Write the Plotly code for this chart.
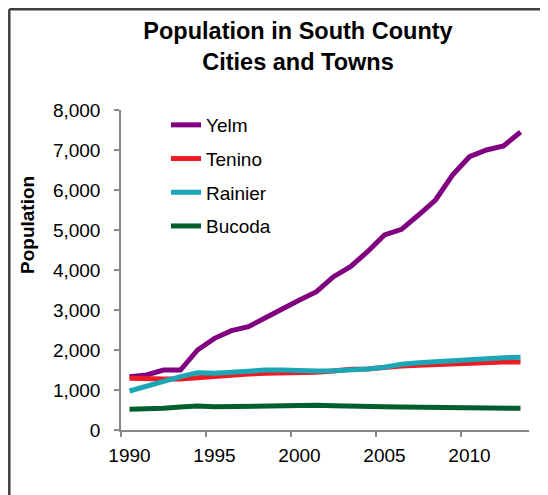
import plotly.graph_objects as go

years = list(range(1990, 2014))
yelm = [1333, 1375, 1500, 1500, 2000, 2292, 2483, 2583, 2808, 3042, 3250, 3458,
        3833, 4083, 4458, 4875, 5017, 5375, 5750, 6375, 6833, 7000, 7100, 7450]
tenino = [1292, 1275, 1275, 1275, 1308, 1358, 1375, 1400, 1417, 1417, 1417, 1442,
          1475, 1517, 1525, 1567, 1600, 1617, 1633, 1667, 1683, 1700, 1700, 1700]
rainier = [975, 1100, 1208, 1333, 1433, 1417, 1442, 1475, 1500, 1500, 1483, 1475,
           1483, 1500, 1525, 1567, 1642, 1683, 1708, 1733, 1775, 1808, 1808, 1817]
bucoda = [517, 525, 542, 575, 600, 583, 592, 608, 608, 617, 617, 617,
          608, 608, 592, 583, 575, 567, 558, 558, 542, 542, 542, 542]

series_names = ["Yelm", "Tenino", "Rainier", "Bucoda"]
series_values = [yelm, tenino, rainier, bucoda]
colors = ["#800080", "#ED1C24", "#1BA6B6", "#005F2C"]

x_tick_vals = [1990, 1995, 2000, 2005, 2010]
x_tick_text = ["1990", "1995", "2000", "2005", "2010"]
y_tick_vals = [0, 1000, 2000, 3000, 4000, 5000, 6000, 7000, 8000]

FONT = "Liberation Sans, Arial, sans-serif"

fig = go.Figure()
for name, vals, col in zip(series_names, series_values, colors):
    fig.add_trace(go.Scatter(
        x=years, y=vals, name=name, mode="lines",
        line=dict(color=col, width=5),
        legendgroup=name,
    ))

# page body has an 8px margin; work in window pixels and subtract it
OFF = 8
W, H = 548 - OFF, 495 - OFF
L, T = 121 - OFF, 110 - OFF
pw, ph = 408, 320
R, B = W - L - pw, H - T - ph

def px_to_paper_x(px):
    return (px - OFF - L) / pw

def px_to_paper_y(py):
    return (T + ph - (py - OFF)) / ph

bx, by = px_to_paper_x(OFF + 1.3), px_to_paper_y(OFF + 1.3)
frame = dict(color="#404040", width=2.5)

fig.update_layout(
    width=W, height=H,
    margin=dict(l=L, r=R, t=T, b=B, pad=0),
    paper_bgcolor="white", plot_bgcolor="white",
    font=dict(family=FONT, size=19, color="#000000"),
    title=dict(
        text="<b>Population in South County<br>Cities and Towns</b>",
        font=dict(family=FONT, size=23.5, color="#000000"),
        x=(298 - OFF) / W, xanchor="center",
        y=1 - 31 / H, yanchor="top",
    ),
    showlegend=True,
    legend=dict(
        x=px_to_paper_x(166), y=px_to_paper_y(106),
        xanchor="left", yanchor="top",
        font=dict(family=FONT, size=19, color="#000000"),
        bgcolor="rgba(0,0,0,0)",
        traceorder="grouped", tracegroupgap=6,
    ),
    xaxis=dict(
        range=[1989.5, 2013.5],
        tickvals=x_tick_vals, ticktext=x_tick_text,
        ticks="", showgrid=False, zeroline=False,
        showline=True, linecolor="#888888", linewidth=1.5,
        tickfont=dict(family=FONT, size=19, color="#000000"),
        minor=dict(ticks="outside", ticklen=5, tickwidth=1.5, tickcolor="#888888",
                   tick0=1989.5, dtick=5, showgrid=False),
        ticklabelstandoff=7,
    ),
    yaxis=dict(
        range=[0, 8000],
        tickvals=y_tick_vals, tickformat=",",
        ticks="outside", ticklen=5, tickwidth=1.5, tickcolor="#888888",
        showgrid=False, zeroline=False,
        showline=True, linecolor="#888888", linewidth=1.5,
        tickfont=dict(family=FONT, size=19, color="#000000"),
        ticklabelstandoff=10,
    ),
    shapes=[
        dict(type="line", xref="paper", yref="paper",
             x0=bx, x1=px_to_paper_x(548), y0=by, y1=by, line=frame),
        dict(type="line", xref="paper", yref="paper",
             x0=bx, x1=bx, y0=by, y1=px_to_paper_y(495), line=frame),
    ],
    annotations=[dict(
        text="<b>Population</b>", xref="paper", yref="paper",
        x=px_to_paper_x(27), y=px_to_paper_y(225),
        xanchor="center", yanchor="middle", textangle=-90, showarrow=False,
        font=dict(family=FONT, size=19, color="#000000"),
    )],
)

fig.write_html("out.html")
